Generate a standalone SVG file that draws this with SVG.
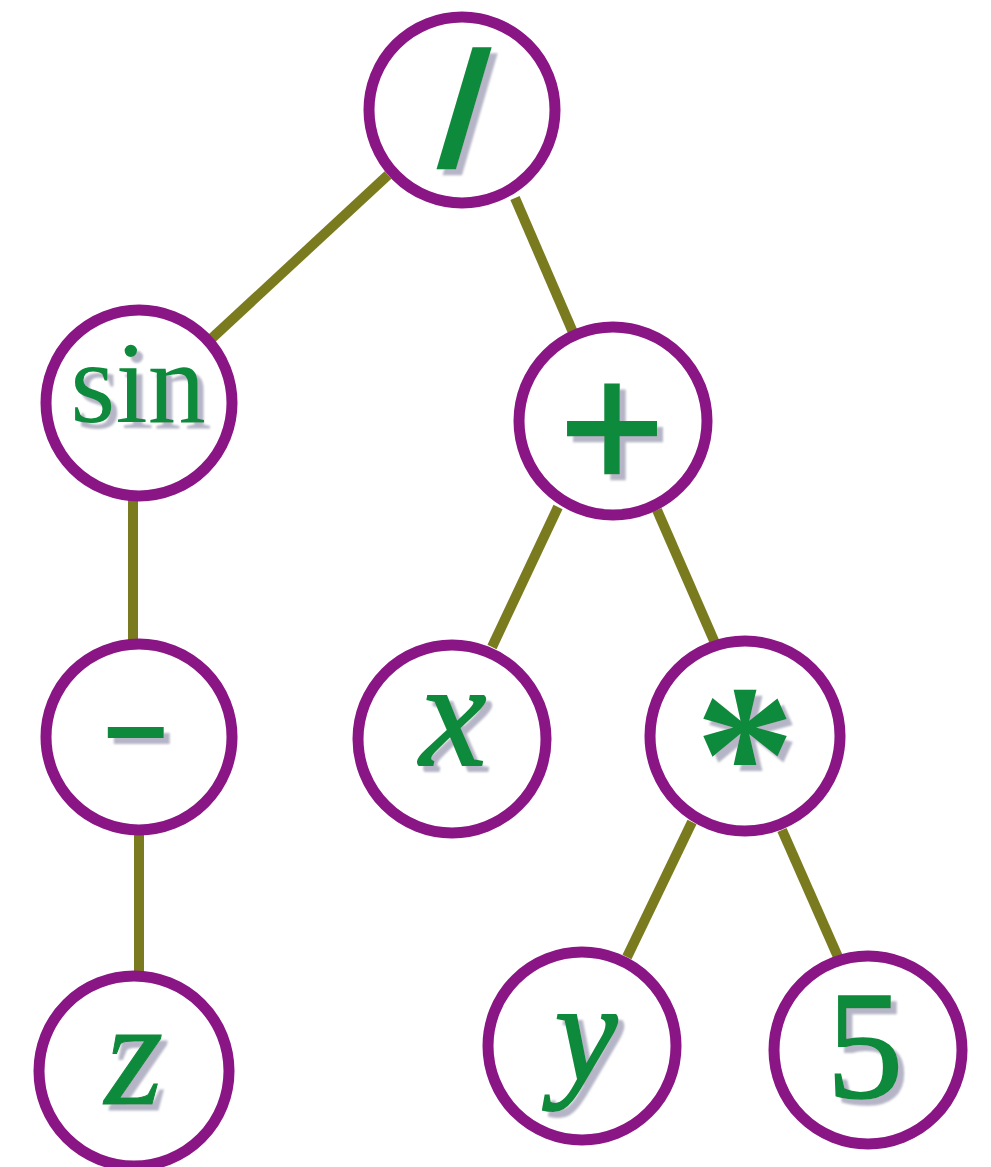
<svg xmlns="http://www.w3.org/2000/svg" width="991" height="1167" viewBox="0 0 991 1167">
  <defs>
    <filter id="sh" x="-30%" y="-30%" width="160%" height="160%">
      <feDropShadow dx="6" dy="6" stdDeviation="1" flood-color="#9c9cb4" flood-opacity="0.75"/>
    </filter>
  </defs>
  <style>
    .edge { stroke: #7a7a1e; stroke-width: 10; stroke-linecap: butt; fill: none; }
    .node circle { fill: #ffffff; stroke: #8a1585; stroke-width: 11; }
    .lbl { fill: #0e8a3a; text-anchor: middle; }
  </style>
  <rect width="991" height="1167" fill="#ffffff"/>
  <g id="connectors">
    <line class="edge" x1="388" y1="175" x2="210" y2="340"/>
    <line class="edge" x1="515" y1="198" x2="575" y2="337"/>
    <line class="edge" x1="133" y1="500" x2="133" y2="648"/>
    <line class="edge" x1="139" y1="830" x2="139" y2="976"/>
    <line class="edge" x1="558" y1="507" x2="492" y2="647"/>
    <line class="edge" x1="657" y1="510" x2="715" y2="643"/>
    <line class="edge" x1="692" y1="822" x2="627" y2="957"/>
    <line class="edge" x1="782" y1="830" x2="838" y2="957"/>
  </g>
  <g id="node-div" class="node">
    <circle cx="462" cy="110" r="93"/>
    <g filter="url(#sh)"><text class="lbl" font-family="Liberation Sans, Arial, sans-serif" font-weight="bold" transform="translate(458,166) skewX(-6)" x="0" y="0" font-size="164">/</text></g>
  </g>
  <g id="node-sin" class="node">
    <circle cx="139" cy="403" r="93"/>
    <g filter="url(#sh)"><text class="lbl" font-family="Liberation Serif, Times New Roman, serif" x="138" y="422" font-size="116">sin</text></g>
  </g>
  <g id="node-plus" class="node">
    <circle cx="613" cy="421" r="94"/>
    <g filter="url(#sh)"><text class="lbl" font-family="Liberation Sans, Arial, sans-serif" stroke="#0e8a3a" stroke-width="2.5" x="612" y="489" font-size="180">+</text></g>
  </g>
  <g id="node-neg" class="node">
    <circle cx="139" cy="737" r="93"/>
    <g filter="url(#sh)"><text class="lbl" font-family="Liberation Sans, Arial, sans-serif" font-weight="bold" transform="translate(136,733) scale(1,0.42)" x="0" y="57" font-size="220">-</text></g>
  </g>
  <g id="node-x" class="node">
    <circle cx="452" cy="739" r="94"/>
    <g filter="url(#sh)"><text class="lbl" font-family="Liberation Serif, Times New Roman, serif" font-style="italic" stroke="#0e8a3a" stroke-width="2" x="453" y="765" font-size="150">x</text></g>
  </g>
  <g id="node-mul" class="node">
    <circle cx="745" cy="736" r="95"/>
    <g filter="url(#sh)"><text class="lbl" font-family="Liberation Serif, Times New Roman, serif" font-weight="bold" x="745" y="821" font-size="200">*</text></g>
  </g>
  <g id="node-z" class="node">
    <circle cx="134" cy="1071" r="95"/>
    <g filter="url(#sh)"><text class="lbl" font-family="Liberation Serif, Times New Roman, serif" font-style="italic" stroke="#0e8a3a" stroke-width="1" x="134" y="1104" font-size="150">z</text></g>
  </g>
  <g id="node-y" class="node">
    <circle cx="582" cy="1046" r="94"/>
    <g filter="url(#sh)"><text class="lbl" font-family="Liberation Serif, Times New Roman, serif" font-style="italic" stroke="#0e8a3a" stroke-width="2" x="586" y="1081" font-size="141">y</text></g>
  </g>
  <g id="node-5" class="node">
    <circle cx="868" cy="1050" r="94"/>
    <g filter="url(#sh)"><text class="lbl" font-family="Liberation Serif, Times New Roman, serif" stroke="#0e8a3a" stroke-width="1.5" x="865" y="1097" font-size="154">5</text></g>
  </g>
</svg>
